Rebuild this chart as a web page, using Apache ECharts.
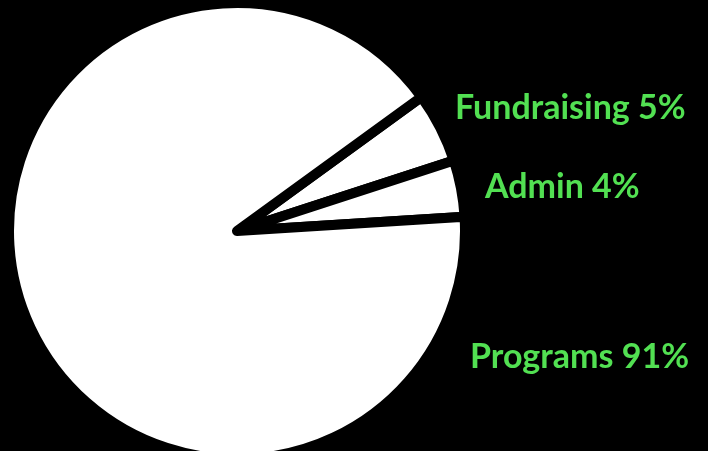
<!DOCTYPE html>
<html>
<head>
<meta charset="utf-8">
<script src="https://cdn.jsdelivr.net/npm/echarts@6/dist/echarts.min.js"></script>
<style>
html,body{margin:0;padding:0;background:#000;}
#chart{width:708px;height:451px;}
</style>
</head>
<body>
<div id="chart"></div>
<script>
const categories = ['Fundraising', 'Admin', 'Programs'];
const values = [5, 4, 91];

const labelPos = [
  { x: 455, y: 108 },
  { x: 485, y: 187 },
  { x: 470, y: 357 }
];

const chart = echarts.init(document.getElementById('chart'));
chart.setOption({
  backgroundColor: '#000000',
  animation: false,
  series: [{
    type: 'pie',
    center: [237, 231],
    radius: 228,
    startAngle: 36,
    clockwise: true,
    data: categories.map((c, i) => ({ name: c, value: values[i] })),
    itemStyle: { color: '#ffffff', borderColor: '#000000', borderWidth: 10, borderJoin: 'round' },
    label: {
      show: true,
      position: 'inside',
      formatter: '{b} {d}%',
      color: '#52e052',
      fontFamily: 'Lato',
      fontWeight: 'bold',
      fontSize: 34,
      align: 'left',
      verticalAlign: 'middle'
    },
    labelLine: { show: false },
    labelLayout: function (p) {
      const pos = labelPos[p.dataIndex];
      return { x: pos.x, y: pos.y, align: 'left', verticalAlign: 'middle', hideOverlap: false };
    },
    emphasis: { disabled: true }
  }]
});
</script>
</body>
</html>
